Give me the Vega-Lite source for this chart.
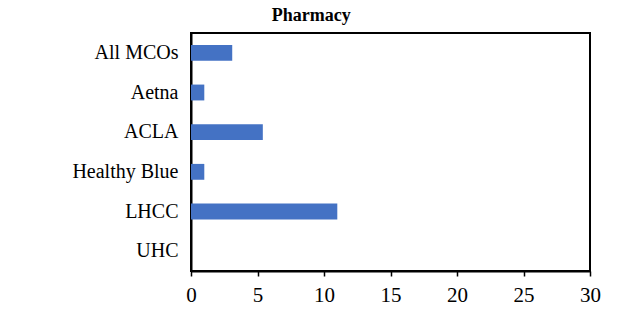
{
  "$schema": "https://vega.github.io/schema/vega-lite/v6.json",
  "width": 399,
  "height": 238,
  "padding": {"left": 71, "top": 7, "right": 5, "bottom": 5},
  "background": "white",
  "title": {
    "text": "Pharmacy",
    "font": "Liberation Serif",
    "fontSize": 18,
    "fontWeight": "bold",
    "color": "black",
    "anchor": "middle",
    "frame": "bounds",
    "dx": -25,
    "offset": 8
  },
  "data": {
    "values": [
      {"mco": "All MCOs", "value": 3.1},
      {"mco": "Aetna", "value": 1.0},
      {"mco": "ACLA", "value": 5.4},
      {"mco": "Healthy Blue", "value": 1.0},
      {"mco": "LHCC", "value": 11.0},
      {"mco": "UHC", "value": 0}
    ]
  },
  "mark": {"type": "bar", "color": "#4472C4"},
  "encoding": {
    "y": {
      "field": "mco",
      "type": "nominal",
      "sort": null,
      "scale": {"paddingInner": 0.6, "paddingOuter": 0.3},
      "axis": {
        "title": null,
        "ticks": false,
        "labelPadding": 13,
        "labelFont": "Liberation Serif",
        "labelFontSize": 20,
        "labelColor": "black",
        "domainColor": "black",
        "domainWidth": 2
      }
    },
    "x": {
      "field": "value",
      "type": "quantitative",
      "scale": {"domain": [0, 30], "nice": false},
      "axis": {
        "title": null,
        "values": [0, 5, 10, 15, 20, 25, 30],
        "grid": false,
        "labelFlush": false,
        "tickColor": "black",
        "tickSize": 5,
        "tickWidth": 1.5,
        "labelPadding": 8,
        "labelFont": "Liberation Serif",
        "labelFontSize": 21,
        "labelColor": "black",
        "domainColor": "black",
        "domainWidth": 2
      }
    }
  },
  "config": {
    "view": {"stroke": "black", "strokeWidth": 2}
  }
}
